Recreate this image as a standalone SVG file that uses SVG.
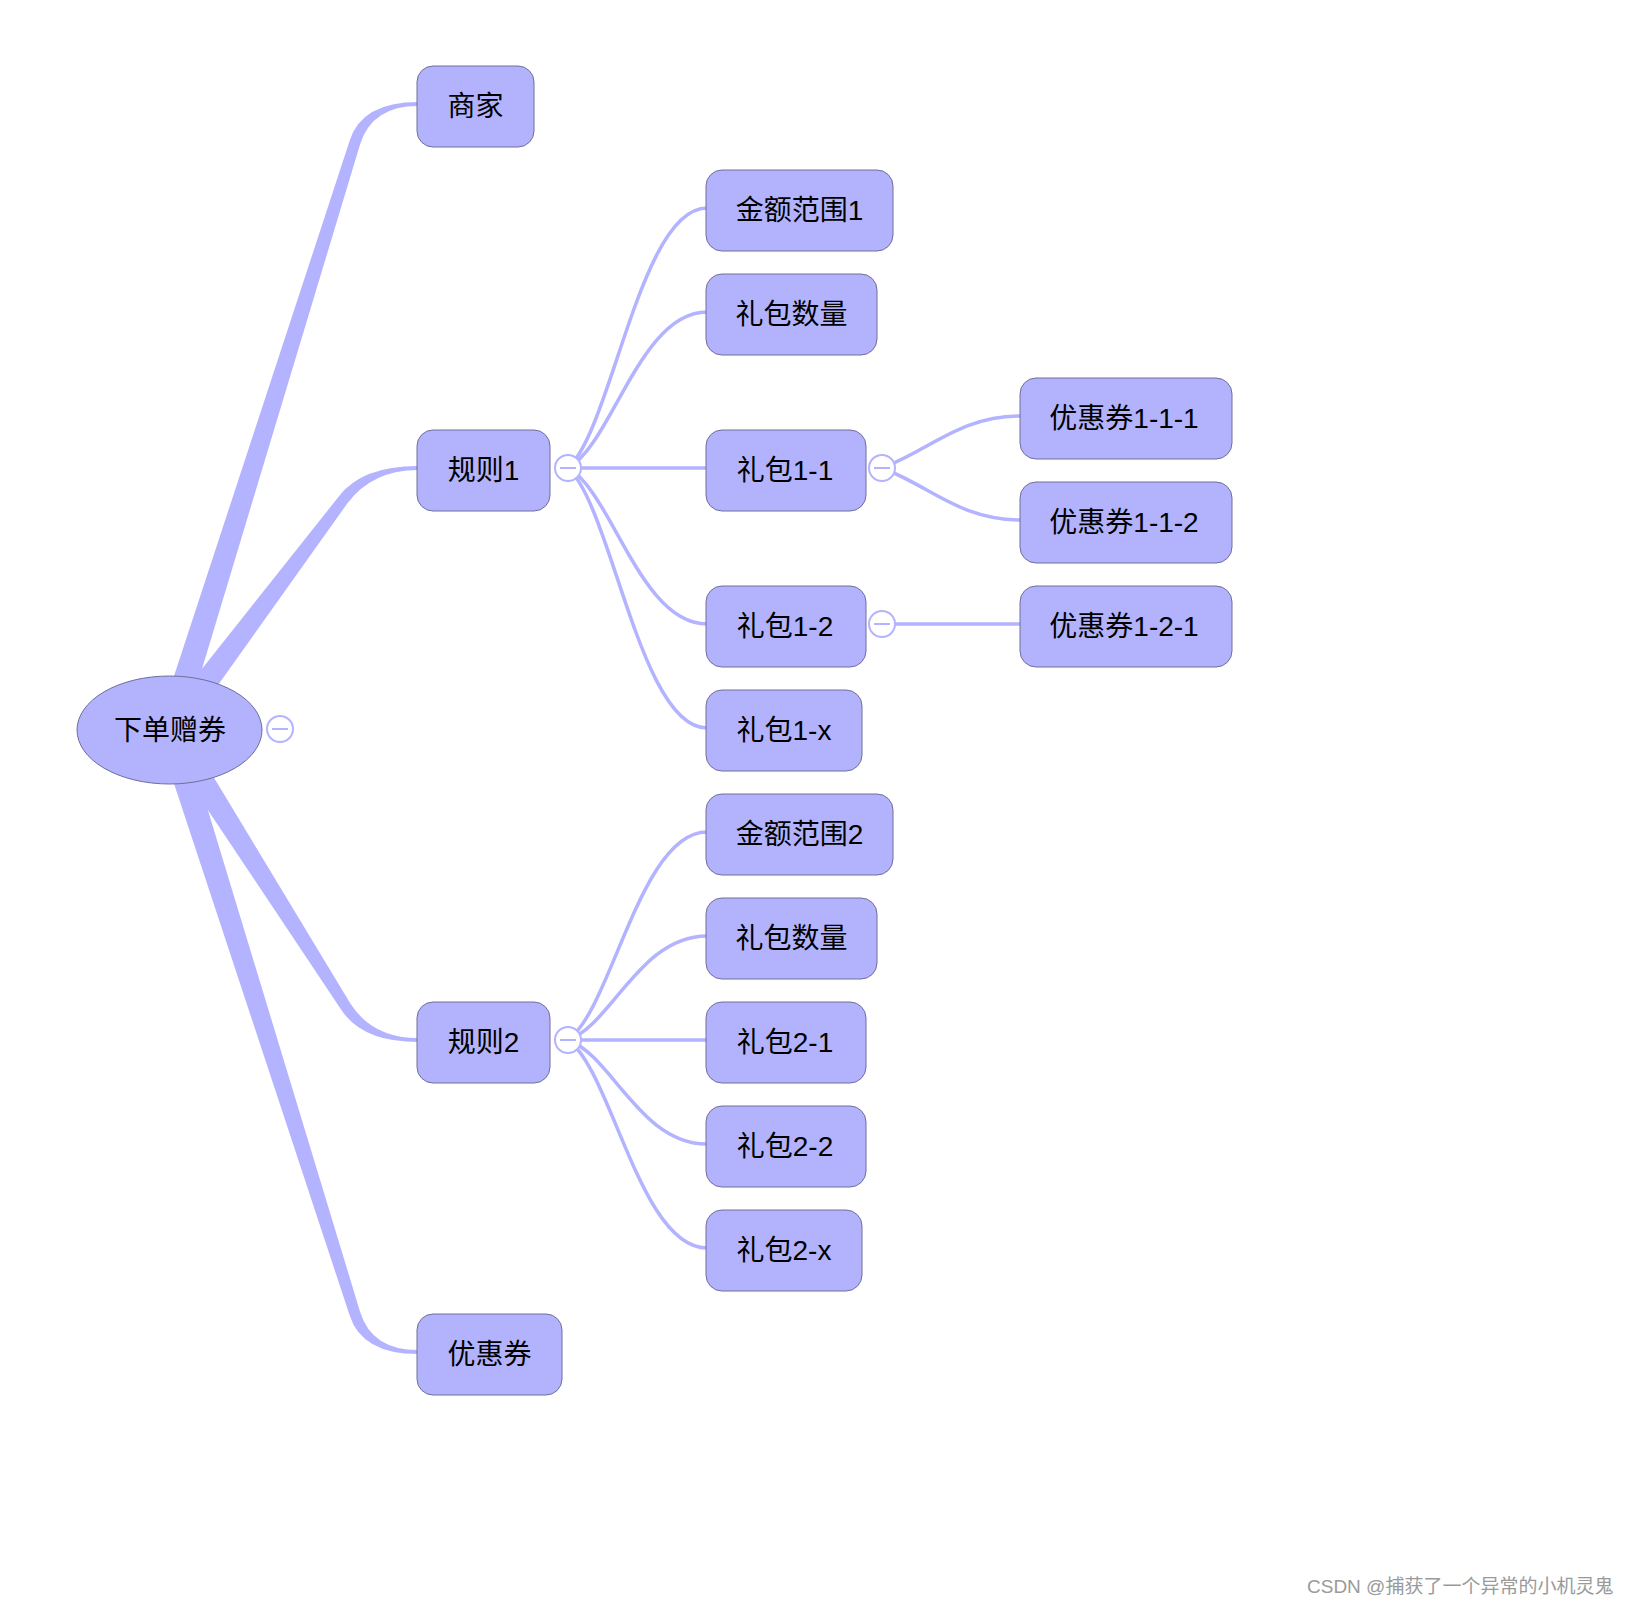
<svg xmlns="http://www.w3.org/2000/svg" width="1634" height="1604" viewBox="0 0 1634 1604">
<style>
.node{fill:#b3b3fd;stroke:#6e6e9c;stroke-width:1}
.lbl{font-family:"Liberation Sans","Noto Sans CJK SC",sans-serif;font-size:28px;fill:#000;text-anchor:middle}
.trunk{fill:#b3b3ff;stroke:none}
.link{fill:none;stroke:#b3b3ff;stroke-width:3.5}
.tog circle{fill:#fff;stroke:#b3b3ff;stroke-width:2}
.tog line{stroke:#b3b3ff;stroke-width:2}
.wm{font-family:"Liberation Sans","Noto Sans CJK SC",sans-serif;font-size:19px;fill:#9a9a9a}
</style>
<rect width="1634" height="1604" fill="#fff"/>
<g id="connectors">
<path class="trunk" d="M157.6,726.1 L349.75,140.55 Q361.9,102 418,102 L418,106 Q372.2,106 360.25,143.85 L182.4,733.9 Z"/>
<path class="trunk" d="M159.6,722.2 L338.6,496.7 Q361.6,466 418,466 L418,470 Q372.4,470 347.4,503.3 L180.4,737.8 Z"/>
<path class="trunk" d="M180.97,723.03 L350.19,1003.29 Q372.25,1038 418,1038 L418,1042 Q361.76,1042 340.91,1009.19 L159.03,736.97 Z"/>
<path class="trunk" d="M182.4,726.1 L360.2,1312.2 Q372.1,1350 418,1350 L418,1354 Q361.9,1354 349.7,1315.5 L157.6,733.9 Z"/>
<path class="link" d="M568,468 C612,429 640,208 707,208"/>
<path class="link" d="M568,468 C612,444.6 640,312 707,312"/>
<path class="link" d="M568,468 L707,468"/>
<path class="link" d="M568,468 C612,491.4 640,624 707,624"/>
<path class="link" d="M568,468 C612,507 640,728 707,728"/>
<path class="link" d="M568,1040 C612,1008.8 640,832 707,832"/>
<path class="link" d="M568,1040 C612,1024.4 640,936 707,936"/>
<path class="link" d="M568,1040 L707,1040"/>
<path class="link" d="M568,1040 C612,1055.6 640,1144 707,1144"/>
<path class="link" d="M568,1040 C612,1071.2 640,1248 707,1248"/>
<path class="link" d="M882,468 C930,450 960,416 1021,416"/>
<path class="link" d="M882,468 C930,486 960,520 1021,520"/>
<path class="link" d="M882,624 L1021,624"/>
</g>
<g id="root">
<ellipse class="node" cx="169.5" cy="730" rx="92.5" ry="54"/>
<text class="lbl" x="170" y="740">下单赠券</text>
</g>
<g id="n-shangjia"><rect class="node" x="417" y="66" width="117" height="81" rx="16"/><text class="lbl" x="475.5" y="116">商家</text></g>
<g id="n-guize1"><rect class="node" x="417" y="430" width="133" height="81" rx="16"/><text class="lbl" x="483.5" y="480">规则1</text></g>
<g id="n-guize2"><rect class="node" x="417" y="1002" width="133" height="81" rx="16"/><text class="lbl" x="483.5" y="1052">规则2</text></g>
<g id="n-youhuiquan"><rect class="node" x="417" y="1314" width="145" height="81" rx="16"/><text class="lbl" x="489.5" y="1364">优惠券</text></g>
<g id="n-jine1"><rect class="node" x="706" y="170" width="187" height="81" rx="16"/><text class="lbl" x="799.5" y="220">金额范围1</text></g>
<g id="n-shuliang1"><rect class="node" x="706" y="274" width="171" height="81" rx="16"/><text class="lbl" x="791.5" y="324">礼包数量</text></g>
<g id="n-libao11"><rect class="node" x="706" y="430" width="160" height="81" rx="16"/><text class="lbl" x="785" y="480">礼包1-1</text></g>
<g id="n-libao12"><rect class="node" x="706" y="586" width="160" height="81" rx="16"/><text class="lbl" x="785" y="636">礼包1-2</text></g>
<g id="n-libao1x"><rect class="node" x="706" y="690" width="156" height="81" rx="16"/><text class="lbl" x="784" y="740">礼包1-x</text></g>
<g id="n-jine2"><rect class="node" x="706" y="794" width="187" height="81" rx="16"/><text class="lbl" x="799.5" y="844">金额范围2</text></g>
<g id="n-shuliang2"><rect class="node" x="706" y="898" width="171" height="81" rx="16"/><text class="lbl" x="791.5" y="948">礼包数量</text></g>
<g id="n-libao21"><rect class="node" x="706" y="1002" width="160" height="81" rx="16"/><text class="lbl" x="785" y="1052">礼包2-1</text></g>
<g id="n-libao22"><rect class="node" x="706" y="1106" width="160" height="81" rx="16"/><text class="lbl" x="785" y="1156">礼包2-2</text></g>
<g id="n-libao2x"><rect class="node" x="706" y="1210" width="156" height="81" rx="16"/><text class="lbl" x="784" y="1260">礼包2-x</text></g>
<g id="n-yhq111"><rect class="node" x="1020" y="378" width="212" height="81" rx="16"/><text class="lbl" x="1124" y="428">优惠券1-1-1</text></g>
<g id="n-yhq112"><rect class="node" x="1020" y="482" width="212" height="81" rx="16"/><text class="lbl" x="1124" y="532">优惠券1-1-2</text></g>
<g id="n-yhq121"><rect class="node" x="1020" y="586" width="212" height="81" rx="16"/><text class="lbl" x="1124" y="636">优惠券1-2-1</text></g>
<g id="toggles" class="tog">
<circle cx="280" cy="729" r="13"/><line x1="272" y1="729" x2="288" y2="729"/>
<circle cx="568" cy="468" r="13"/><line x1="560" y1="468" x2="576" y2="468"/>
<circle cx="568" cy="1040" r="13"/><line x1="560" y1="1040" x2="576" y2="1040"/>
<circle cx="882" cy="468" r="13"/><line x1="874" y1="468" x2="890" y2="468"/>
<circle cx="882" cy="624" r="13"/><line x1="874" y1="624" x2="890" y2="624"/>
</g>
<text class="wm" x="1307" y="1593">CSDN @捕获了一个异常的小机灵鬼</text>
</svg>
